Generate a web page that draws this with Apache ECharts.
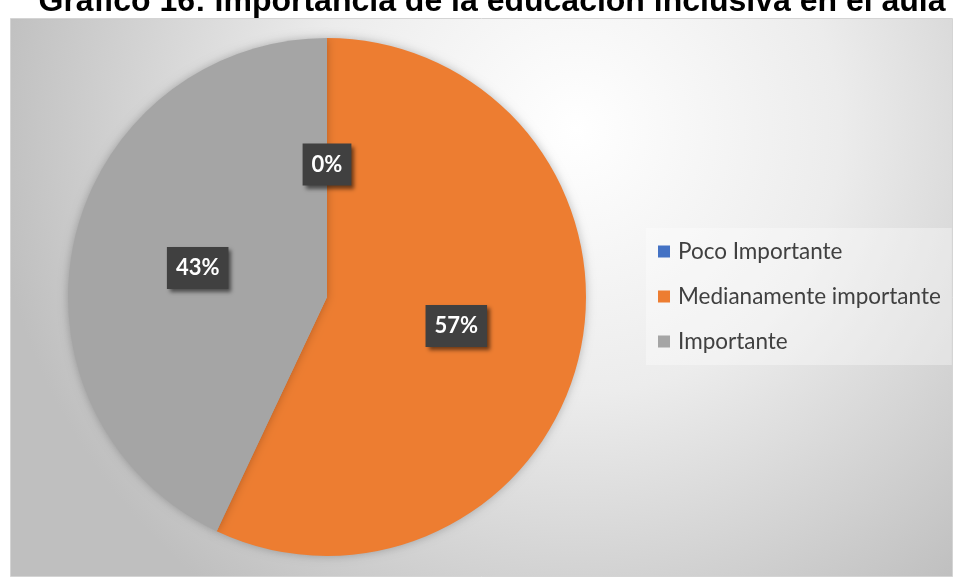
<!DOCTYPE html>
<html>
<head>
<meta charset="utf-8">
<script src="https://cdn.jsdelivr.net/npm/echarts@6/dist/echarts.min.js"></script>
<style>
  html, body { margin: 0; padding: 0; background: #fff; }
  #chart { width: 957px; height: 577px; }
</style>
</head>
<body>
<div id="chart"></div>
<script>
var categories = ['Poco Importante', 'Medianamente importante', 'Importante'];
var percents = [0, 57, 43];
var colors = ['#4472C4', '#ED7D31', '#A5A5A5'];

var chart = echarts.init(document.getElementById('chart'));

chart.setOption({
    animation: false,
    title: {
        text: 'Gráfico 16: Importancia de la educación inclusiva en el aula',
        left: 492,
        top: -14,
        textAlign: 'center',
        padding: 0,
        textStyle: {
            fontFamily: 'Liberation Sans',
            fontSize: 32,
            fontWeight: 'bold',
            color: '#000'
        }
    },
    graphic: [{
        type: 'rect',
        z: -10,
        silent: true,
        shape: { x: 10.5, y: 18.5, width: 942, height: 558 },
        style: {
            stroke: '#d4d4d4',
            lineWidth: 1,
            fill: {
                type: 'radial',
                x: 0.6, y: 0.2, r: 1.05,
                colorStops: [
                    { offset: 0, color: '#ffffff' },
                    { offset: 0.45, color: '#ececec' },
                    { offset: 1, color: '#bfbfbf' }
                ]
            }
        }
    }],
    legend: {
        orient: 'vertical',
        left: 646,
        top: 228,
        padding: [12, 11, 12, 12],
        itemGap: 22,
        itemWidth: 12,
        itemHeight: 12,
        backgroundColor: 'rgba(255,255,255,0.35)',
        icon: 'rect',
        data: categories,
        textStyle: {
            fontFamily: 'Lato',
            fontSize: 22.5,
            color: '#404040',
            padding: [0, 0, 0, 3]
        }
    },
    series: [{
        name: 'Importancia',
        type: 'pie',
        center: [327, 297],
        radius: [0, 259],
        startAngle: 90,
        clockwise: true,
        stillShowZeroSum: true,
        avoidLabelOverlap: false,
        itemStyle: {
            shadowColor: 'rgba(0,0,0,0.25)',
            shadowBlur: 10
        },
        label: {
            show: true,
            position: 'inside',
            formatter: '{d}%',
            backgroundColor: '#404040',
            padding: [11, 9, 9, 9],
            color: '#fff',
            fontFamily: 'Lato',
            fontWeight: 'bold',
            fontSize: 22,
            shadowColor: 'rgba(0,0,0,0.55)',
            shadowBlur: 4,
            shadowOffsetX: 3,
            shadowOffsetY: 3
        },
        labelLine: { show: false },
        data: categories.map(function (name, i) {
            return {
                name: name,
                value: percents[i],
                itemStyle: { color: colors[i] }
            };
        })
    }]
});
</script>
</body>
</html>
